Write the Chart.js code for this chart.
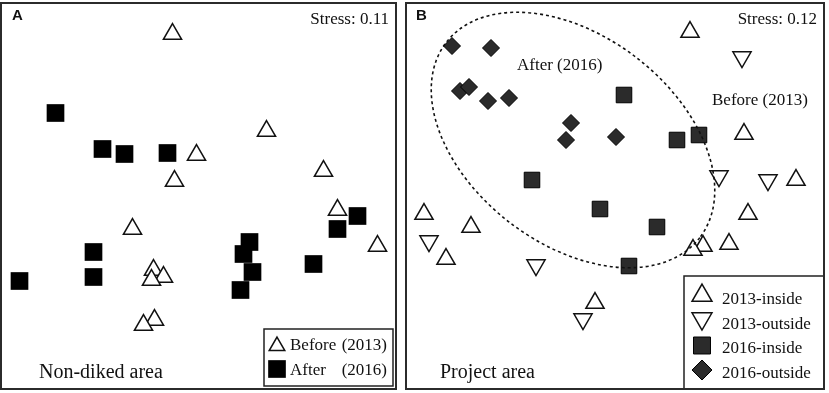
<!DOCTYPE html>
<html>
<head>
<meta charset="utf-8">
<script src="https://cdn.jsdelivr.net/npm/chart.js@4.4.1/dist/chart.umd.min.js"></script>
<style>
  html, body { margin: 0; padding: 0; background: #fff; }
  #wrap { position: relative; width: 829px; height: 393px; overflow: hidden; }
  canvas { position: absolute; }
  #cA { left: 0px; top: 2px; }
  #cB { left: 405px; top: 2px; }
</style>
</head>
<body>
<div id="wrap">
  <canvas id="cA" width="397" height="388"></canvas>
  <canvas id="cB" width="420" height="388"></canvas>
</div>
<script>
// ---------- DATA (NMDS coordinates) ----------
// Panel A: Non-diked area
const seriesA = ['Before (2013)', 'After (2016)'];
const beforeA = [[-0.26, 1.62], [-0.02, 0.41], [-0.24, 0.15], [0.68, 0.65], [1.25, 0.25],
  [1.39, -0.14], [1.79, -0.50], [-0.66, -0.33], [-0.45, -0.74], [-0.35, -0.81],
  [-0.47, -0.84], [-0.44, -1.24], [-0.55, -1.29]];
const afterA = [[-1.43, 0.83], [-0.96, 0.47], [-0.74, 0.42], [-0.31, 0.43], [1.59, -0.20],
  [1.39, -0.33], [-1.05, -0.56], [-1.05, -0.81], [-1.79, -0.85], [0.51, -0.46],
  [0.45, -0.58], [0.54, -0.76], [0.42, -0.94], [1.15, -0.68]];
const stressA = 'Stress: 0.11';
const titleA = 'Non-diked area';

// Panel B: Project area
const seriesB = ['2013-inside', '2013-outside', '2016-inside', '2016-outside'];
const inside2013 = [[0.76, 1.64], [1.30, 0.62], [1.82, 0.16], [-1.90, -0.18], [-1.43, -0.31],
  [-1.68, -0.63], [1.34, -0.18], [1.15, -0.48], [0.89, -0.50], [0.79, -0.54], [-0.19, -1.07]];
const outside2013 = [[1.28, 1.39], [1.05, 0.20], [1.54, 0.16], [-1.85, -0.45], [-0.78, -0.69],
  [-0.31, -1.23]];
const inside2016 = [[0.10, 1.01], [0.63, 0.56], [0.85, 0.61], [-0.82, 0.16], [-0.14, -0.13],
  [0.43, -0.31], [0.15, -0.70]];
const outside2016 = [[-1.62, 1.50], [-1.23, 1.48], [-1.54, 1.05], [-1.45, 1.09], [-1.26, 0.95],
  [-1.05, 0.98], [-0.43, 0.73], [-0.48, 0.56], [0.02, 0.59]];
// ellipse around the 2016 samples: [centerX, centerY, semiMajor, semiMinor, angleDeg]
const ellipseB = [-0.41, 0.56, 1.60, 1.04, -37.6];
const stressB = 'Stress: 0.12';
const titleB = 'Project area';
const groupLabelsB = ['After (2016)', 'Before (2013)'];

// ---------- helpers ----------
const toPts = arr => arr.map(p => ({ x: p[0], y: p[1] }));
const SERIF = '"Liberation Serif", "Times New Roman", serif';
const SANS = '"Liberation Sans", Arial, sans-serif';

function drawSymbol(ctx, style, x, y) {
  ctx.save();
  ctx.fillStyle = style.fill;
  ctx.strokeStyle = style.stroke;
  ctx.lineWidth = style.lw;
  if (Chart.helpers && Chart.helpers.drawPoint) {
    Chart.helpers.drawPoint(ctx, {
      pointStyle: style.shape, rotation: style.rot || 0,
      radius: style.r, borderWidth: style.lw
    }, x, y);
  }
  ctx.restore();
}

const framePlugin = {
  id: 'frame',
  afterDraw(chart) {
    const ctx = chart.ctx, w = chart.width, h = chart.height;
    ctx.save();
    ctx.strokeStyle = '#2b2b2b';
    ctx.lineWidth = 2;
    ctx.strokeRect(1, 1, w - 2, h - 2);
    ctx.restore();
  }
};

const ellipsePlugin = {
  id: 'ellipse',
  afterDatasetsDraw(chart, args, opts) {
    if (!opts || !opts.values) return;
    const [cx, cy, a, b, ang] = opts.values;
    const xs = chart.scales.x, ys = chart.scales.y;
    const px = xs.getPixelForValue(cx), py = ys.getPixelForValue(cy);
    const rx = Math.abs(xs.getPixelForValue(cx + a) - px);
    const ry = Math.abs(ys.getPixelForValue(cy + b) - py);
    const ctx = chart.ctx;
    ctx.save();
    ctx.setLineDash([3, 3]);
    ctx.lineWidth = 1.6;
    ctx.strokeStyle = '#111';
    ctx.beginPath();
    ctx.ellipse(px, py, rx, ry, -ang * Math.PI / 180, 0, Math.PI * 2);
    ctx.stroke();
    ctx.restore();
  }
};

const textPlugin = {
  id: 'texts',
  afterDraw(chart, args, opts) {
    if (!opts || !opts.items) return;
    const ctx = chart.ctx;
    ctx.save();
    ctx.fillStyle = '#111';
    ctx.textBaseline = 'alphabetic';
    opts.items.forEach(t => {
      ctx.font = t.font;
      ctx.textAlign = t.align || 'left';
      ctx.fillText(t.text, t.x, t.y);
    });
    ctx.restore();
  }
};

const boxLegendPlugin = {
  id: 'boxLegend',
  afterDraw(chart, args, o) {
    if (!o || !o.box) return;
    const ctx = chart.ctx;
    ctx.save();
    ctx.fillStyle = '#fff';
    ctx.fillRect(o.box[0], o.box[1], o.box[2], o.box[3]);
    ctx.strokeStyle = '#222';
    ctx.lineWidth = 1.5;
    ctx.strokeRect(o.box[0], o.box[1], o.box[2], o.box[3]);
    chart.data.datasets.forEach((ds, i) => {
      const sym = o.symbols[i];
      drawSymbol(ctx, sym, o.symX, o.symY[i]);
      ctx.fillStyle = '#111';
      ctx.font = o.font;
      ctx.textBaseline = 'alphabetic';
      if (o.textRight) {
        const k = ds.label.indexOf(' ');
        ctx.textAlign = 'left';
        ctx.fillText(ds.label.slice(0, k), o.textX, o.baselines[i]);
        ctx.textAlign = 'right';
        ctx.fillText(ds.label.slice(k + 1), o.textRight, o.baselines[i]);
      } else {
        ctx.textAlign = 'left';
        ctx.fillText(ds.label, o.textX, o.baselines[i]);
      }
    });
    ctx.restore();
  }
};

function baseOptions(xmin, xmax, ymin, ymax) {
  return {
    responsive: false,
    devicePixelRatio: 1,
    animation: false,
    events: [],
    layout: { padding: 0, autoPadding: false },
    scales: {
      x: { type: 'linear', min: xmin, max: xmax, display: false },
      y: { type: 'linear', min: ymin, max: ymax, display: false }
    },
    plugins: { legend: { display: false }, tooltip: { enabled: false } }
  };
}

// ---------- Panel A ----------
const triUp = { shape: 'triangle', rot: 0, fill: '#fff', stroke: '#111', lw: 1.5 };
const optsA = baseOptions(-1.985, 1.985, -1.94, 1.94);
optsA.plugins.texts = { items: [
  { text: 'A', x: 12, y: 18, font: 'bold 15px ' + SANS },
  { text: stressA, x: 389, y: 22, font: '17px ' + SERIF, align: 'right' },
  { text: titleA, x: 39, y: 376, font: '20px ' + SERIF }
] };
optsA.plugins.boxLegend = {
  box: [264, 327, 129, 57],
  symX: 277, symY: [344, 367],
  symbols: [
    Object.assign({}, triUp, { r: 9 }),
    { shape: 'rect', fill: '#000', stroke: '#000', lw: 0, r: 12.5 }
  ],
  textX: 290, textRight: 387, baselines: [348, 373], font: '17px ' + SERIF
};
new Chart(document.getElementById('cA'), {
  type: 'scatter',
  data: {
    datasets: [
      { label: seriesA[0], data: toPts(beforeA), pointStyle: 'triangle', pointRadius: 10.5,
        backgroundColor: '#fff', borderColor: '#111', borderWidth: 1.5, clip: false },
      { label: seriesA[1], data: toPts(afterA), pointStyle: 'rect', pointRadius: 12.5,
        backgroundColor: '#000', borderColor: '#000', borderWidth: 0, clip: false }
    ]
  },
  options: optsA,
  plugins: [textPlugin, boxLegendPlugin, framePlugin]
});

// ---------- Panel B ----------
const optsB = baseOptions(-2.09, 2.11, -1.94, 1.94);
optsB.plugins.ellipse = { values: ellipseB };
optsB.plugins.texts = { items: [
  { text: 'B', x: 11, y: 18, font: 'bold 15px ' + SANS },
  { text: stressB, x: 412, y: 22, font: '17px ' + SERIF, align: 'right' },
  { text: groupLabelsB[0], x: 112, y: 68, font: '17px ' + SERIF },
  { text: groupLabelsB[1], x: 307, y: 103, font: '17px ' + SERIF },
  { text: titleB, x: 35, y: 376, font: '20px ' + SERIF }
] };
optsB.plugins.boxLegend = {
  box: [279, 274, 160, 140],
  symX: 297, symY: [293.5, 316.5, 343.5, 368],
  symbols: [
    Object.assign({}, triUp, { r: 11.5 }),
    Object.assign({}, triUp, { r: 11.5, rot: 180 }),
    { shape: 'rect', fill: '#2b2b2b', stroke: '#000', lw: 1, r: 12 },
    { shape: 'rectRot', fill: '#2b2b2b', stroke: '#000', lw: 1, r: 10 }
  ],
  textX: 317, baselines: [302, 326.5, 351, 375.5], font: '17px ' + SERIF
};
new Chart(document.getElementById('cB'), {
  type: 'scatter',
  data: {
    datasets: [
      { label: seriesB[0], data: toPts(inside2013), pointStyle: 'triangle', pointRadius: 10.5,
        backgroundColor: '#fff', borderColor: '#111', borderWidth: 1.5, clip: false },
      { label: seriesB[1], data: toPts(outside2013), pointStyle: 'triangle', pointRotation: 180,
        pointRadius: 10.5, backgroundColor: '#fff', borderColor: '#111', borderWidth: 1.5, clip: false },
      { label: seriesB[2], data: toPts(inside2016), pointStyle: 'rect', pointRadius: 11,
        backgroundColor: '#2b2b2b', borderColor: '#000', borderWidth: 1, clip: false },
      { label: seriesB[3], data: toPts(outside2016), pointStyle: 'rectRot', pointRadius: 8.5,
        backgroundColor: '#2b2b2b', borderColor: '#000', borderWidth: 1, clip: false }
    ]
  },
  options: optsB,
  plugins: [ellipsePlugin, textPlugin, boxLegendPlugin, framePlugin]
});
</script>
</body>
</html>
